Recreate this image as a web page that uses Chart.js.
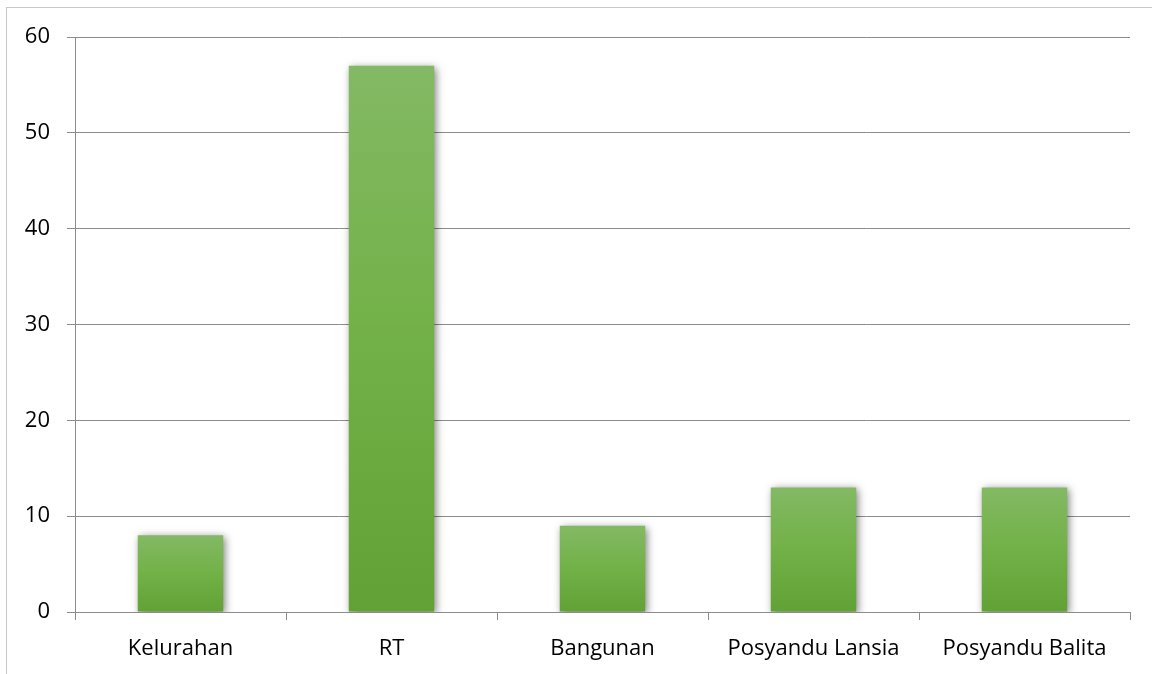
<!DOCTYPE html>
<html>
<head>
<meta charset="utf-8">
<script src="https://cdn.jsdelivr.net/npm/chart.js@4"></script>
<style>
  html, body { margin: 0; padding: 0; background: #fff; }
  #wrap { position: relative; width: 1152px; height: 674px; overflow: hidden; }
  #frame {
    position: absolute; left: 6px; top: 7px; width: 1160px; height: 700px;
    border-left: 1px solid #c8c8c8; border-top: 1px solid #c8c8c8; pointer-events: none;
  }
  canvas { position: absolute; left: 0; top: 0; }
</style>
</head>
<body>
<div id="wrap">
  <canvas id="chart" width="1152" height="674"></canvas>
  <div id="frame"></div>
</div>
<script>
const categories = ['Kelurahan', 'RT', 'Bangunan', 'Posyandu Lansia', 'Posyandu Balita'];
const values = [8, 57, 9, 13, 13];
const yTicks = [0, 10, 20, 30, 40, 50, 60];

// green gradient per bar, light on top, darker at the base
function barFill(context) {
  const chart = context.chart;
  const y = chart.scales.y;
  if (!chart.chartArea || !y) return '#70ad47';
  const top = y.getPixelForValue(context.raw);
  const bottom = y.getPixelForValue(0);
  if (!isFinite(top) || bottom - top < 1) return '#70ad47';
  const g = chart.ctx.createLinearGradient(0, top, 0, bottom);
  g.addColorStop(0, '#83b964');
  g.addColorStop(0.5, '#72b147');
  g.addColorStop(1, '#61a135');
  return g;
}

const barShadow = {
  id: 'barShadow',
  beforeDatasetsDraw(chart) {
    const c = chart.ctx;
    c.save();
    c.shadowColor = 'rgba(0,0,0,0.5)';
    c.shadowBlur = 8;
    c.shadowOffsetX = 2;
    c.shadowOffsetY = 2;
  },
  afterDatasetsDraw(chart) {
    chart.ctx.restore();
  }
};

const font = { family: '"Open Sans", Lato, sans-serif', size: 22 };

const ctx = document.getElementById('chart').getContext('2d');
new Chart(ctx, {
  type: 'bar',
  data: {
    labels: categories,
    datasets: [{
      data: values,
      backgroundColor: barFill,
      borderWidth: 0,
      categoryPercentage: 1,
      barPercentage: 0.405
    }]
  },
  options: {
    responsive: false,
    animation: false,
    layout: { padding: { top: 37, right: 22, bottom: 0, left: 0 } },
    plugins: { legend: { display: false }, tooltip: { enabled: false } },
    scales: {
      x: {
        afterFit(scale) { scale.height = 62; },
        grid: { drawOnChartArea: false, drawTicks: true, tickLength: 8, color: '#8c8c8c', offset: true },
        border: { display: true, color: '#8c8c8c', width: 1 },
        ticks: { color: '#000', font: font, padding: 16, maxRotation: 0, autoSkip: false }
      },
      y: {
        min: 0,
        max: 60,
        afterFit(scale) { scale.width = 75; },
        afterBuildTicks(scale) { scale.ticks = yTicks.map(v => ({ value: v })); },
        grid: { color: '#8c8c8c', tickLength: 8, lineWidth: 1 },
        border: { display: true, color: '#8c8c8c', width: 1 },
        ticks: { color: '#000', font: font, padding: 17 }
      }
    }
  },
  plugins: [barShadow]
});
</script>
</body>
</html>
